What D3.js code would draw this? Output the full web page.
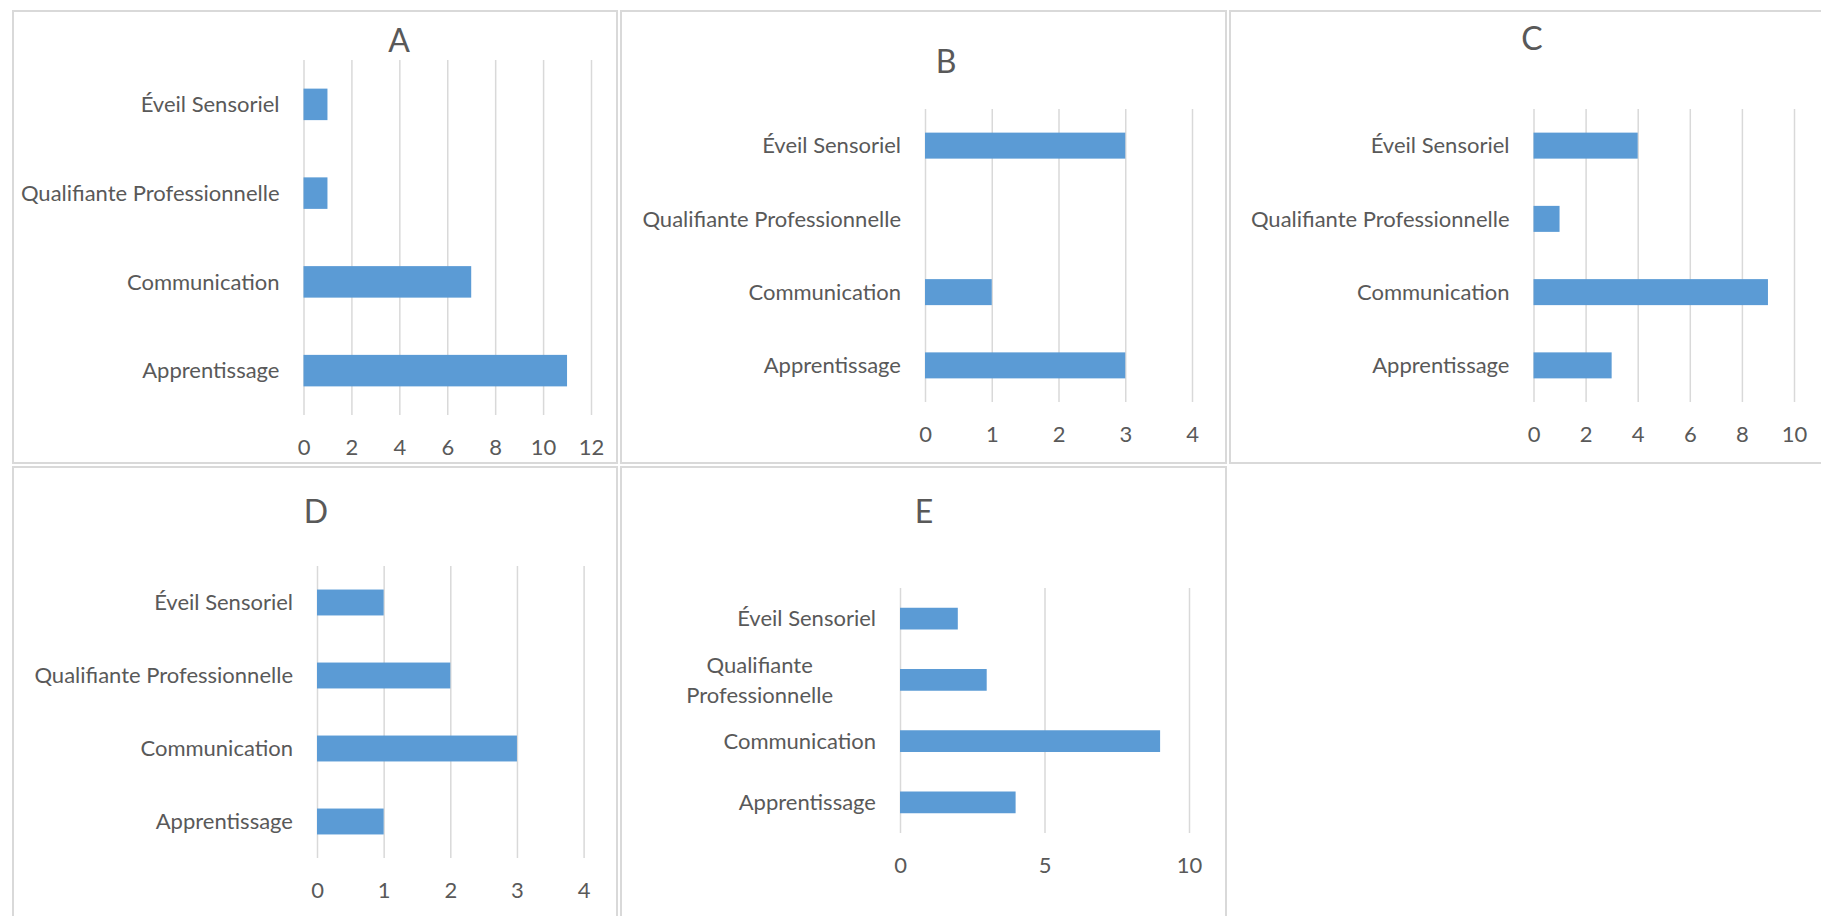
<!DOCTYPE html>
<html>
<head>
<meta charset="utf-8">
<script src="https://cdn.jsdelivr.net/npm/d3@7"></script>
<style>
  html, body { margin: 0; padding: 0; background: #ffffff; }
  svg { display: block; }
  text { font-family: Lato, "Open Sans", sans-serif; fill: #595959; }
</style>
</head>
<body>
<script>
// Categories, listed top to bottom as they appear on each panel
const categories = ["Éveil Sensoriel", "Qualifiante Professionnelle", "Communication", "Apprentissage"];

// Counts per category for each group
const valuesA = [1, 1, 7, 11];
const valuesB = [3, 0, 1, 3];
const valuesC = [4, 1, 9, 3];
const valuesD = [1, 2, 3, 1];
const valuesE = [2, 3, 9, 4];

// Axis tick values per panel
const ticksA = [0, 2, 4, 6, 8, 10, 12];
const ticksB = [0, 1, 2, 3, 4];
const ticksC = [0, 2, 4, 6, 8, 10];
const ticksD = [0, 1, 2, 3, 4];
const ticksE = [0, 5, 10];

const titles = ["A", "B", "C", "D", "E"];

// Panel geometry: frame box, title anchor, plot area
const layout = [
  { frame: [13, 11, 617, 463],   title: [399, 52],  plot: [303.5, 591, 60, 415],  wrap: false },
  { frame: [621, 11, 1226, 463], title: [946, 73],  plot: [925, 1192, 109, 402],  wrap: false },
  { frame: [1230, 11, 1830, 463], title: [1532, 50], plot: [1533.5, 1794, 109, 402], wrap: false },
  { frame: [13, 467, 617, 930],  title: [316, 523], plot: [317, 583.6, 566, 858], wrap: false },
  { frame: [621, 467, 1226, 930], title: [924, 523], plot: [900, 1189, 588, 833], wrap: true }
];

const series = [valuesA, valuesB, valuesC, valuesD, valuesE];
const tickSets = [ticksA, ticksB, ticksC, ticksD, ticksE];

const W = 1821, H = 916;
const BAR = "#5b9bd5", GRID = "#d9d9d9", FRAME = "#d9d9d9";
const LABEL_SIZE = 22, TITLE_SIZE = 32;

const svg = d3.select("body").append("svg")
  .attr("width", W).attr("height", H);

svg.append("rect").attr("width", W).attr("height", H).attr("fill", "#fff");

series.forEach((vals, i) => {
  const L = layout[i];
  const ticks = tickSets[i];
  const [fx0, fy0, fx1, fy1] = L.frame;
  const [px0, px1, py0, py1] = L.plot;
  const g = svg.append("g");

  g.append("rect")
    .attr("x", fx0).attr("y", fy0)
    .attr("width", fx1 - fx0).attr("height", fy1 - fy0)
    .attr("fill", "#fff").attr("stroke", FRAME).attr("stroke-width", 2);

  const x = d3.scaleLinear().domain([ticks[0], ticks[ticks.length - 1]]).range([px0, px1]);
  const y = d3.scaleBand().domain(categories).range([py0, py1])
    .paddingInner(0.645).paddingOuter(0.3225);

  // vertical gridlines and value axis labels
  const xAxis = d3.axisBottom(x).tickValues(ticks).tickSize(-(py1 - py0)).tickPadding(0).tickFormat(d3.format("d"));
  const ax = g.append("g").attr("transform", `translate(0,${py1})`).call(xAxis);
  ax.select(".domain").remove();
  ax.selectAll(".tick line").attr("stroke", GRID).attr("stroke-width", 1.5);
  ax.selectAll(".tick text")
    .attr("y", 32).attr("dy", "0.35em")
    .style("font-size", LABEL_SIZE + "px").style("font-family", "Lato")
    .attr("fill", "#595959");

  // bars
  g.selectAll("rect.bar").data(categories.map((c, k) => ({ c, v: vals[k] })))
    .join("rect").attr("class", "bar")
    .attr("x", x(0)).attr("y", d => y(d.c))
    .attr("width", d => x(d.v) - x(0)).attr("height", y.bandwidth())
    .attr("fill", BAR);

  // category labels
  const labelRight = px0 - 24;
  categories.forEach(c => {
    const cy = y(c) + y.bandwidth() / 2;
    const words = c.split(" ");
    if (L.wrap && words.length > 1 && c.length > 16) {
      const t = g.append("text").attr("text-anchor", "middle")
        .style("font-size", LABEL_SIZE + "px");
      const lines = words;
      const spans = lines.map((w, k) => t.append("tspan").text(w)
        .attr("y", cy + (k - (lines.length - 1) / 2) * 30).attr("dy", "0.35em"));
      const bw = t.node().getBBox().width;
      spans.forEach(s => s.attr("x", labelRight - bw / 2));
    } else {
      g.append("text").attr("x", labelRight).attr("y", cy).attr("dy", "0.35em")
        .attr("text-anchor", "end").style("font-size", LABEL_SIZE + "px").text(c);
    }
  });

  // panel title
  g.append("text").attr("x", L.title[0]).attr("y", L.title[1])
    .attr("text-anchor", "middle").style("font-size", TITLE_SIZE + "px").text(titles[i]);
});
</script>
</body>
</html>
